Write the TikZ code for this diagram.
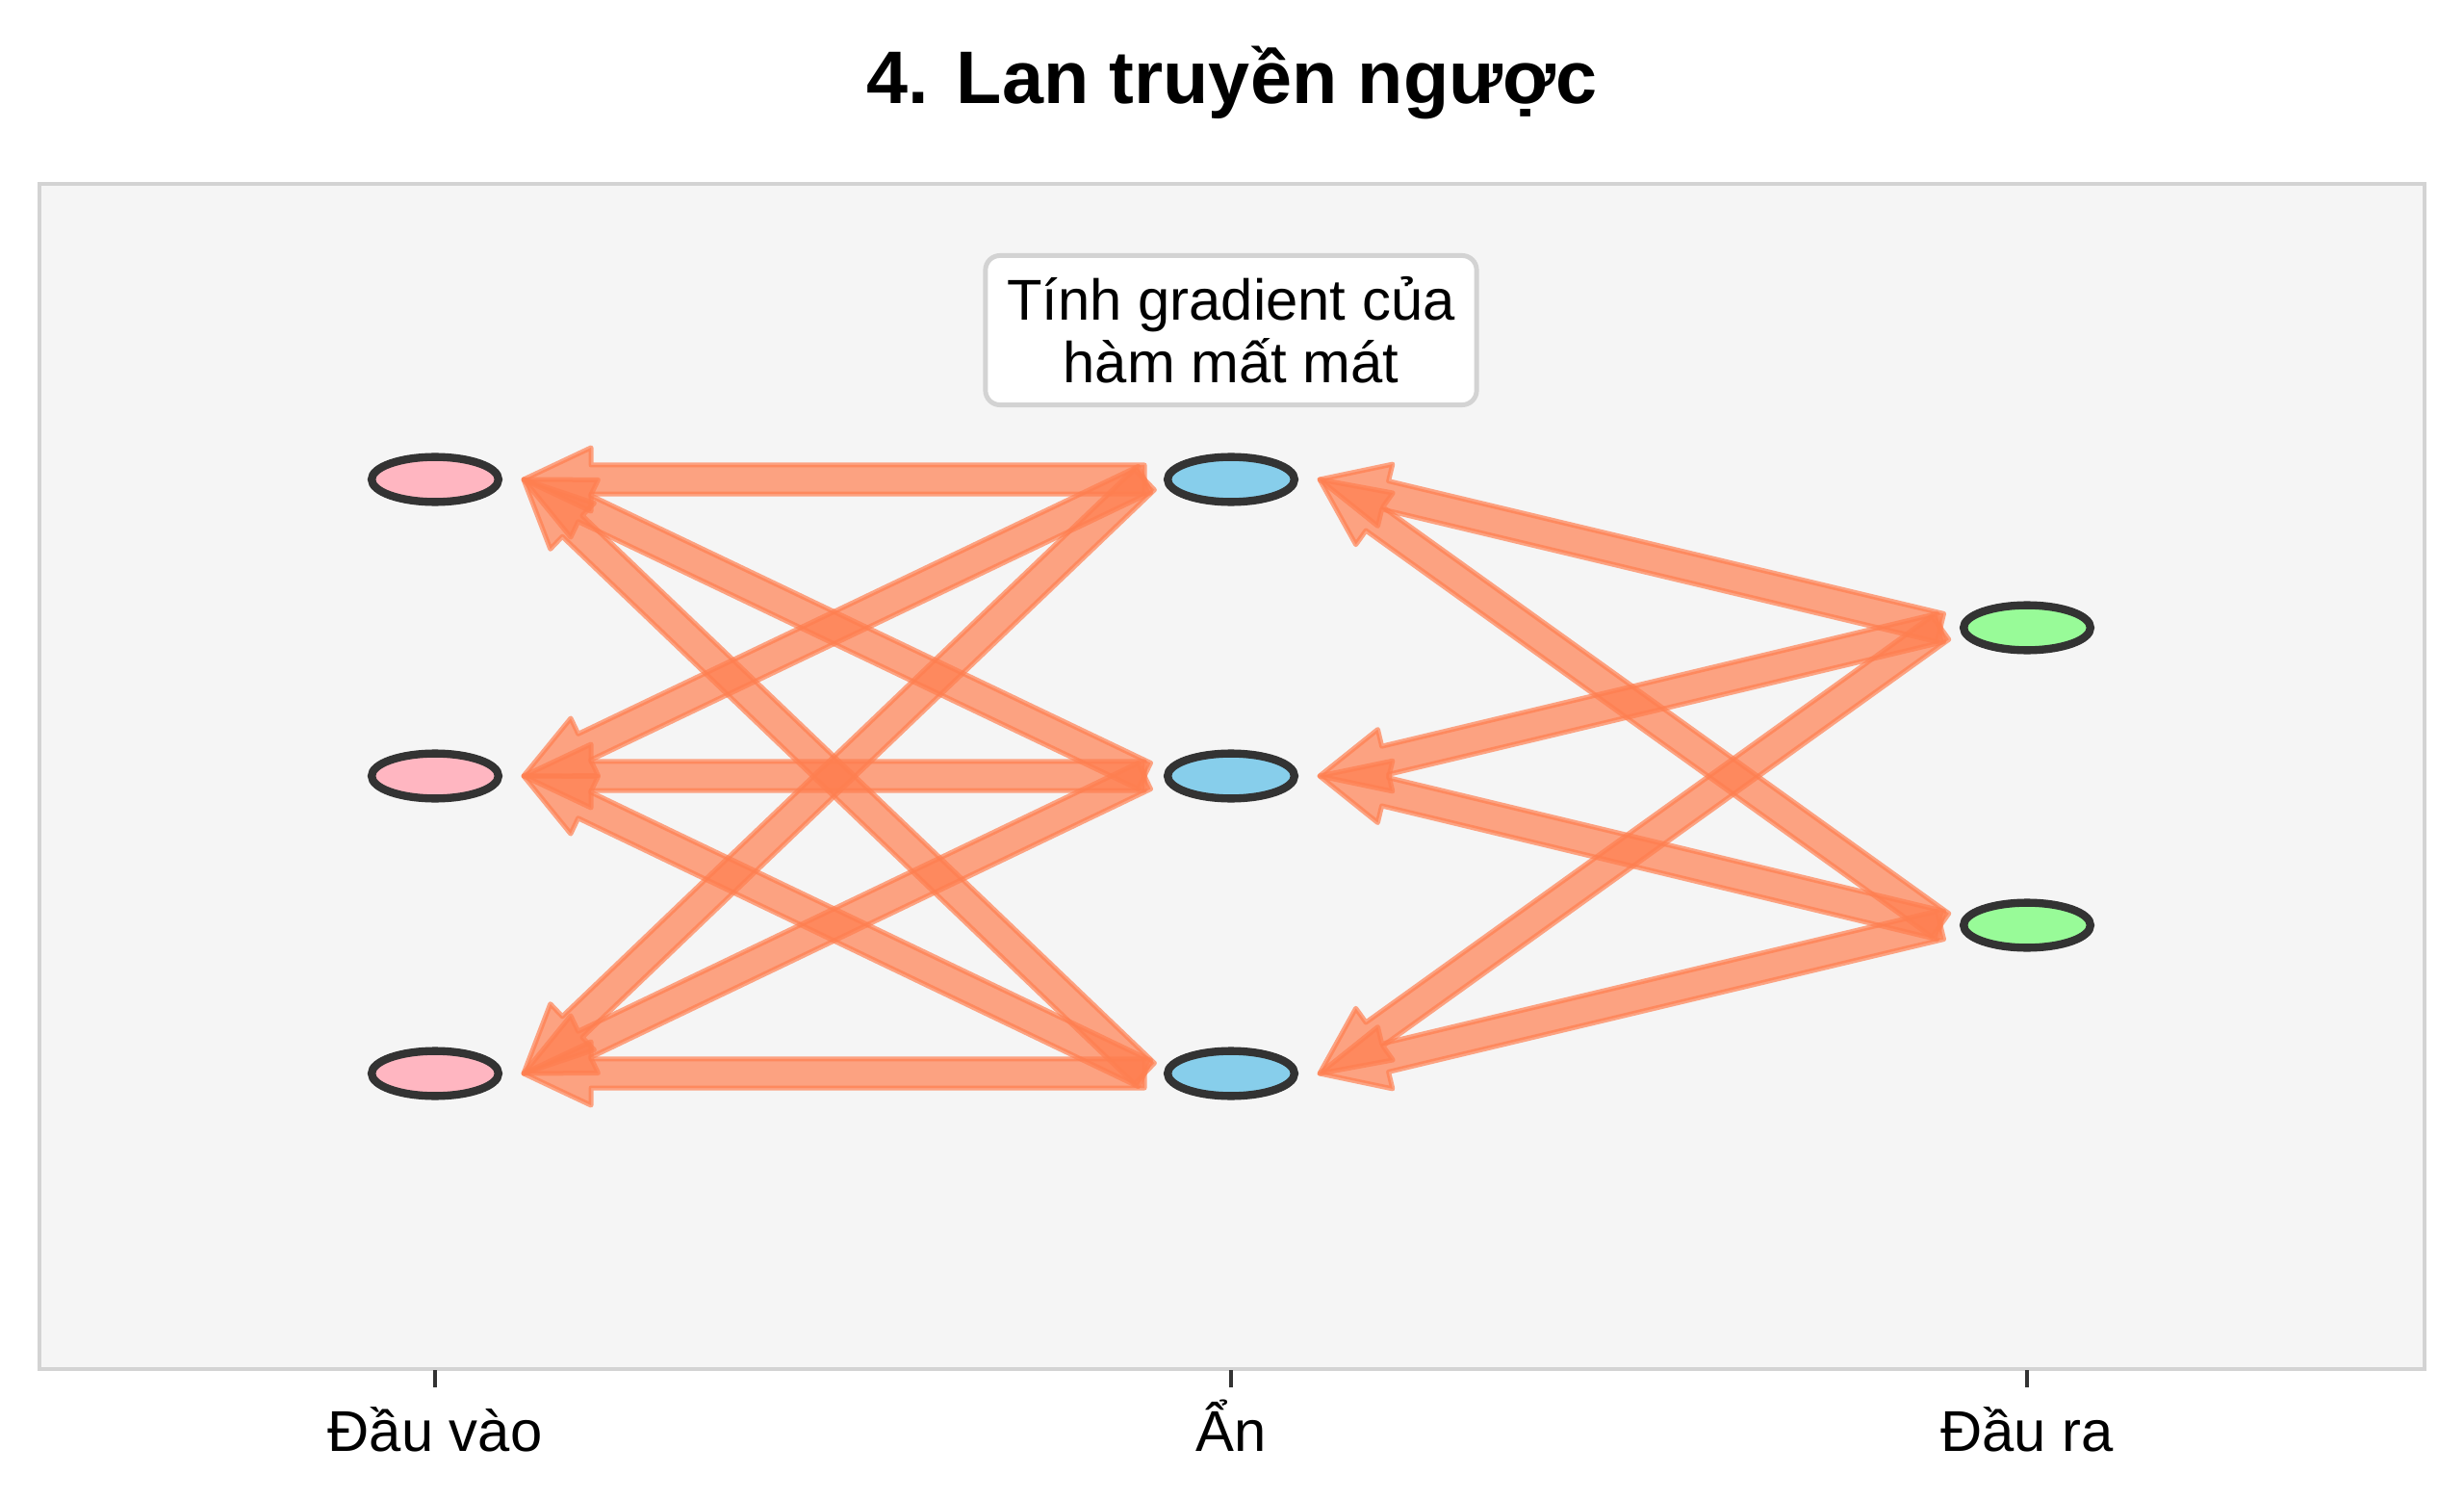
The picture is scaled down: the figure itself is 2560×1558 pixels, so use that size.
\documentclass[tikz,border=0pt]{standalone}
\usepackage{fontspec}
\setmainfont{Liberation Sans}
\usetikzlibrary{shapes.geometric,calc}
\definecolor{arrowc}{HTML}{FF7F50}
\definecolor{framec}{HTML}{D3D3D3}
\definecolor{bgc}{HTML}{F5F5F5}
\definecolor{nodeedge}{HTML}{333333}
\definecolor{inc}{HTML}{FFB6C1}
\definecolor{hidc}{HTML}{87CEEB}
\definecolor{outc}{HTML}{98FB98}
\tikzset{
  neuron/.style={ellipse, draw=nodeedge, line width=2.37pt, minimum width=1.317cm, minimum height=0.467cm, inner sep=0pt},
  fatarrow/.style={fill=arrowc, draw=arrowc, fill opacity=0.7, draw opacity=0.7, line width=0.05cm, line join=round},
  bodytext/.style={font=\fontsize{17}{18.5}\selectfont},
}
% #1 = tail coordinate, #2 = tip coordinate
\newcommand{\gradarrow}[2]{%
  \coordinate (gaH) at ($(#2)!0.70cm!(#1)$);
  \path[fatarrow] ($(#1)!0.15cm!90:(#2)$) -- ($(gaH)!0.15cm!90:(#2)$) -- ($(gaH)!0.33cm!90:(#2)$)
    -- (#2) -- ($(gaH)!0.33cm!-90:(#2)$) -- ($(gaH)!0.15cm!-90:(#2)$) -- ($(#1)!0.15cm!-90:(#2)$) -- cycle;
}
\begin{document}
\begin{tikzpicture}[x=0.01cm, y=-0.01cm]
\useasboundingbox (0,0) rectangle (2560,1558);
\fill[white] (0,0) rectangle (2560,1558);
% title
\node[anchor=base, font=\bfseries\fontsize{22}{26}\selectfont] (title) at (1280,108) {4. Lan truyền ngược};
% axes frame
\draw[framec, fill=bgc, line width=1.19pt] (41,191) rectangle (2519,1422);
% ticks and labels
\foreach \x/\lab/\nm in {452/Đầu vào/lin, 1279/Ẩn/lhid, 2106/Đầu ra/lout}{
  \draw[nodeedge, line width=0.9pt] (\x,1423) -- (\x,1441);
  \node[bodytext, anchor=base, inner sep=0pt] (\nm) at (\x,1507) {\lab};
}
% note box
\node[bodytext, draw=framec, fill=white, line width=1.4pt, rounded corners=0.15cm, align=center,
      minimum width=5.10cm, minimum height=1.55cm, inner sep=0pt] (note) at (1279,343)
      {Tính gradient của\\hàm mất mát};
% neurons
\node[neuron, fill=inc] (i1) at (452,498) {};
\node[neuron, fill=inc] (i2) at (452,806) {};
\node[neuron, fill=inc] (i3) at (452,1115) {};
\node[neuron, fill=hidc] (h1) at (1279,498) {};
\node[neuron, fill=hidc] (h2) at (1279,806) {};
\node[neuron, fill=hidc] (h3) at (1279,1115) {};
\node[neuron, fill=outc] (o1) at (2106,652) {};
\node[neuron, fill=outc] (o2) at (2106,961) {};
% arrow end points
\foreach \n in {1,2,3}{
  \coordinate (i\n tip) at ($(i\n)+(92,0)$);
  \coordinate (h\n tail) at ($(h\n)+(-90,0)$);
  \coordinate (h\n tip) at ($(h\n)+(92,0)$);
}
\foreach \n in {1,2}{
  \coordinate (o\n tail) at ($(o\n)+(-90,0)$);
}
% backpropagation arrows: hidden -> input
\foreach \j in {1,2,3}{
  \foreach \i in {1,2,3}{
    \gradarrow{h\j tail}{i\i tip}
  }
}
% output -> hidden
\foreach \k in {1,2}{
  \foreach \j in {1,2,3}{
    \gradarrow{o\k tail}{h\j tip}
  }
}
\end{tikzpicture}
\end{document}
